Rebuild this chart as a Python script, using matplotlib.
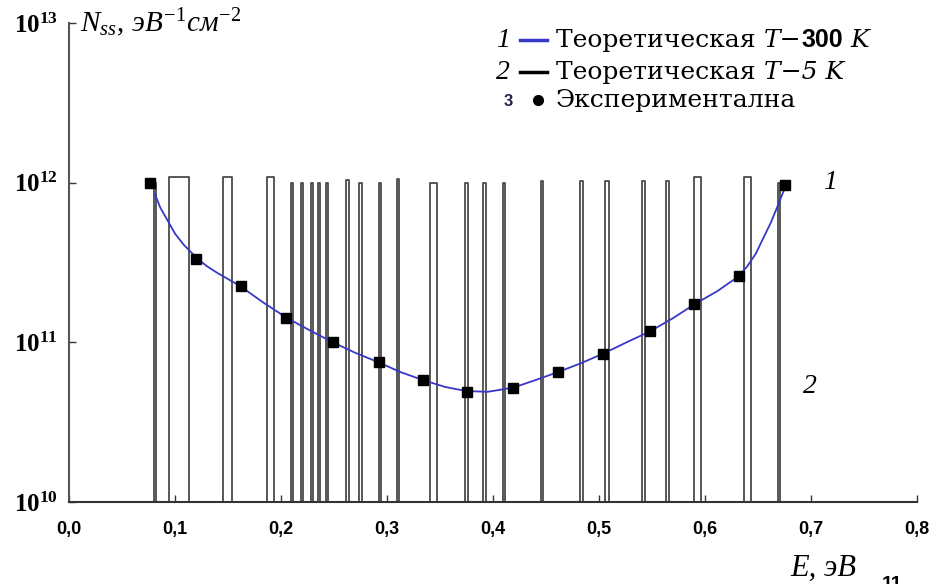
import matplotlib
matplotlib.use("Agg")
import matplotlib.pyplot as plt
from matplotlib.lines import Line2D

plt.rcParams['mathtext.fontset'] = 'custom'
plt.rcParams['mathtext.rm'] = 'Liberation Serif'
plt.rcParams['mathtext.it'] = 'Liberation Serif:italic'
plt.rcParams['mathtext.bf'] = 'Liberation Serif:bold'
plt.rcParams['mathtext.sf'] = 'Liberation Sans:bold'

# Кривая 1 - теоретическая, T = 300 K
curve_x = [0.081, 0.086, 0.093, 0.100, 0.108, 0.120, 0.130, 0.140, 0.162, 0.183,
           0.205, 0.227, 0.249, 0.270, 0.292, 0.313, 0.334, 0.355, 0.375, 0.395,
           0.419, 0.440, 0.461, 0.483, 0.504, 0.526, 0.548, 0.570, 0.590, 0.612,
           0.632, 0.640, 0.648, 0.655, 0.662, 0.668, 0.676]
curve_y = [8.5e11, 7.0e11, 5.8e11, 4.8e11, 4.1e11, 3.4e11, 3.0e11, 2.72e11, 2.24e11, 1.78e11,
           1.43e11, 1.19e11, 1.0e11, 8.6e10, 7.5e10, 6.5e10, 5.8e10, 5.25e10, 4.95e10, 4.9e10,
           5.2e10, 5.8e10, 6.5e10, 7.4e10, 8.5e10, 1.0e11, 1.17e11, 1.42e11, 1.73e11, 2.1e11,
           2.6e11, 3.0e11, 3.6e11, 4.5e11, 5.6e11, 7.0e11, 9.5e11]

# Экспериментальные точки
exp_x = [0.076, 0.120, 0.162, 0.205, 0.249, 0.292, 0.334, 0.375, 0.419, 0.461,
         0.504, 0.548, 0.590, 0.632, 0.675]
exp_y = [1.0e12, 3.35e11, 2.24e11, 1.43e11, 1.0e11, 7.5e10, 5.8e10, 4.9e10, 5.2e10, 6.5e10,
         8.5e10, 1.17e11, 1.73e11, 2.6e11, 9.7e11]

# Кривая 2 - теоретическая, T = 5 K (узкие пики)
peak_left = [0.080, 0.094, 0.145, 0.187, 0.209, 0.219, 0.228, 0.235, 0.242, 0.261,
             0.274, 0.292, 0.309, 0.341, 0.374, 0.391, 0.409, 0.445, 0.482, 0.506,
             0.541, 0.563, 0.590, 0.637, 0.669]
peak_right = [0.082, 0.113, 0.154, 0.193, 0.211, 0.221, 0.230, 0.237, 0.244, 0.264,
              0.276, 0.294, 0.311, 0.347, 0.376, 0.393, 0.411, 0.447, 0.485, 0.509,
              0.543, 0.566, 0.596, 0.643, 0.671]
peak_top = [1.0e12, 1.08e12, 1.08e12, 1.08e12, 1.0e12, 1.0e12, 1.0e12, 1.0e12, 1.0e12, 1.04e12,
            1.0e12, 1.0e12, 1.05e12, 1.0e12, 1.0e12, 1.0e12, 1.0e12, 1.03e12, 1.03e12, 1.03e12,
            1.03e12, 1.03e12, 1.08e12, 1.08e12, 1.0e12]

x_ticks = [0.0, 0.1, 0.2, 0.3, 0.4, 0.5, 0.6, 0.7, 0.8]
y_ticks = [1e10, 1e11, 1e12, 1e13]

W, H = 936, 584
fig = plt.figure(figsize=(W / 100, H / 100), dpi=100)
ax = fig.add_axes([69 / W, 1 - 502 / H, 848 / W, (502 - 23) / H])

base = 1e9
for l, r, t in zip(peak_left, peak_right, peak_top):
    ax.plot([l, l, r, r], [base, t, t, base], color='#4a4a4a', lw=1.3)

ax.plot(curve_x, curve_y, color='#3838c8', lw=1.3, zorder=3)
ax.plot(exp_x, exp_y, 's', color='black', ms=7, zorder=4)

ax.set_yscale('log')
ax.set_xlim(0, 0.8)
ax.set_ylim(1e10, 1e13)

ax.set_xticks(x_ticks)
ax.set_xticklabels([f"{v:.1f}".replace('.', ',') for v in x_ticks],
                   fontfamily='Liberation Sans', fontweight='bold', fontsize=13)
ax.set_yticks(y_ticks)
ax.set_yticklabels([r'$\mathbf{10^{%d}}$' % p for p in (10, 11, 12, 13)], fontsize=18)
ax.yaxis.set_minor_locator(matplotlib.ticker.NullLocator())
ax.tick_params(axis='x', direction='in', length=5, width=1, pad=14, colors='#333333')
ax.tick_params(axis='y', direction='in', length=5, width=1, pad=8, colors='#333333')
for lab in ax.get_xticklabels() + ax.get_yticklabels():
    lab.set_color('black')

for s in ('top', 'right'):
    ax.spines[s].set_visible(False)
ax.spines['left'].set_color('#555555')
ax.spines['bottom'].set_color('#333333')
ax.spines['left'].set_linewidth(1.5)
ax.spines['bottom'].set_linewidth(1.5)

# подпись оси Y
ax.text(0.013, 1.0, r'$N_{ss},\,эВ^{-1}см^{-2}$', transform=ax.transAxes,
        fontsize=21, va='center', ha='left')

# подписи кривых
ax.text(0.718, 1.0e12, '1', fontfamily='Liberation Serif', style='italic',
        fontsize=20, va='center', ha='center')
ax.text(0.699, 5.3e10, '2', fontfamily='Liberation Serif', style='italic',
        fontsize=20, va='center', ha='center')

# подпись оси X
fig.text(790 / W, 1 - 576 / H, 'E, эВ', fontfamily='Liberation Serif', style='italic',
         fontsize=22, va='baseline', ha='left')
fig.text(882 / W, 1 - 576 / H, '11', fontfamily='Liberation Sans', fontweight='bold',
         fontsize=14, va='top', ha='left')

# легенда
renderer = fig.canvas.get_renderer()

def fx(px):
    return px / W

def fy(py):
    return 1 - py / H

def put_pieces(px, py, pieces):
    # кусочки текста разными шрифтами на одной базовой линии
    for s, kw in pieces:
        t = fig.text(fx(px), fy(py), s, va='baseline', ha='left', **kw)
        px += t.get_window_extent(renderer).width

serif = dict(fontfamily='DejaVu Serif', fontsize=18)
serif_it = dict(fontfamily='DejaVu Serif', fontsize=18, style='italic')
sans_b = dict(fontfamily='Liberation Sans', fontsize=18, fontweight='bold')

rows = [(40, '1', '#3838c8', [('Теоретическая ', serif), ('T−', serif_it),
                              ('300', sans_b), (' K', serif_it)]),
        (72, '2', 'black', [('Теоретическая ', serif), ('T−5 K', serif_it)])]
for py, num, col, pieces in rows:
    fig.text(fx(496), fy(py + 7), num, fontfamily='Liberation Serif', style='italic',
             fontsize=20, va='baseline', ha='left')
    fig.add_artist(Line2D([fx(520), fx(547)], [fy(py), fy(py)], color=col, lw=2.5))
    put_pieces(556, py + 7, pieces)

fig.text(fx(504), fy(101), '3', fontfamily='Liberation Sans', fontweight='bold',
         fontsize=12, va='center', ha='left', color='#222244')
fig.add_artist(Line2D([fx(538)], [fy(100)], marker='o', color='black', ms=7))
put_pieces(556, 107, [('Экспериментална', serif)])

fig.savefig('out.png', dpi=100)
